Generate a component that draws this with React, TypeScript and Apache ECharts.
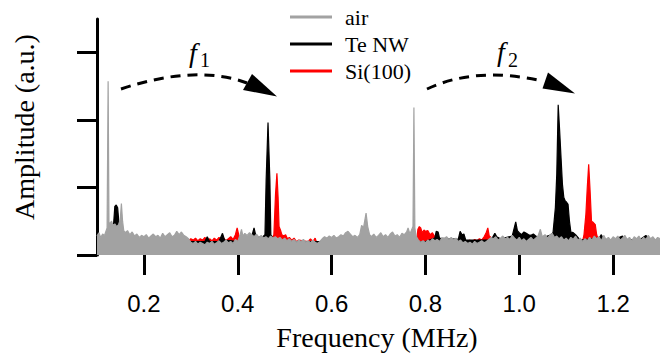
import React, { useEffect, useRef } from "react";
import * as echarts from "echarts";

// Frequency (MHz) / amplitude (a.u.) pairs
const airData: number[][] = [
  [0.100,0.28],[0.104,0.33],[0.108,0.26],[0.112,0.31],[0.116,0.29],[0.1215,0.4],[0.1237,2.57],[0.1255,0.48],[0.128,0.47],[0.131,0.5],
  [0.134,0.44],[0.138,0.46],[0.142,0.42],[0.146,0.45],[0.1495,0.52],[0.152,0.76],[0.1545,0.5],[0.157,0.36],[0.160,0.33],[0.165,0.36],
  [0.170,0.3],[0.175,0.34],[0.180,0.28],[0.185,0.31],[0.190,0.26],[0.195,0.29],[0.200,0.27],[0.205,0.3],[0.210,0.25],[0.215,0.28],
  [0.220,0.31],[0.225,0.27],[0.230,0.29],[0.235,0.25],[0.240,0.32],[0.245,0.27],[0.250,0.3],[0.255,0.33],[0.260,0.27],[0.265,0.29],
  [0.270,0.35],[0.275,0.3],[0.280,0.34],[0.285,0.29],[0.290,0.27],[0.295,0.24],[0.300,0.19],[0.305,0.17],[0.310,0.2],[0.315,0.16],
  [0.320,0.19],[0.325,0.17],[0.330,0.15],[0.335,0.19],[0.340,0.17],[0.345,0.2],[0.350,0.16],[0.355,0.18],[0.360,0.21],[0.365,0.17],
  [0.370,0.19],[0.375,0.22],[0.380,0.18],[0.385,0.2],[0.390,0.17],[0.395,0.23],[0.400,0.2],[0.405,0.3],[0.408,0.38],[0.411,0.28],
  [0.415,0.32],[0.420,0.29],[0.425,0.33],[0.430,0.3],[0.435,0.27],[0.440,0.31],[0.445,0.26],[0.450,0.29],[0.455,0.25],[0.460,0.27],
  [0.465,0.24],[0.470,0.28],[0.475,0.25],[0.480,0.27],[0.485,0.24],[0.490,0.26],[0.495,0.22],[0.500,0.25],[0.505,0.21],[0.510,0.24],
  [0.515,0.2],[0.520,0.23],[0.525,0.19],[0.530,0.22],[0.535,0.2],[0.540,0.23],[0.545,0.19],[0.550,0.21],[0.555,0.18],[0.560,0.22],
  [0.565,0.19],[0.570,0.17],[0.575,0.2],[0.580,0.24],[0.585,0.27],[0.590,0.25],[0.595,0.28],[0.600,0.26],[0.605,0.29],[0.610,0.25],
  [0.615,0.27],[0.620,0.3],[0.625,0.28],[0.630,0.33],[0.635,0.35],[0.640,0.31],[0.645,0.27],[0.650,0.29],[0.655,0.26],[0.660,0.3],
  [0.664,0.44],[0.668,0.4],[0.6735,0.62],[0.677,0.42],[0.681,0.3],[0.685,0.27],[0.690,0.31],[0.695,0.26],[0.700,0.29],[0.705,0.33],
  [0.710,0.27],[0.715,0.3],[0.720,0.26],[0.725,0.31],[0.730,0.34],[0.735,0.28],[0.740,0.3],[0.745,0.26],[0.750,0.32],[0.755,0.3],
  [0.760,0.34],[0.763,0.4],[0.767,0.31],[0.7735,0.42],[0.7755,2.18],[0.7775,0.4],[0.780,0.28],[0.785,0.22],[0.790,0.19],[0.795,0.21],
  [0.800,0.18],[0.805,0.22],[0.810,0.2],[0.815,0.24],[0.820,0.21],[0.825,0.23],[0.830,0.2],[0.835,0.25],[0.840,0.24],[0.845,0.27],
  [0.850,0.23],[0.855,0.26],[0.860,0.22],[0.865,0.25],[0.870,0.2],[0.875,0.22],[0.880,0.18],[0.885,0.2],[0.890,0.17],[0.895,0.19],
  [0.900,0.16],[0.905,0.2],[0.910,0.17],[0.915,0.19],[0.920,0.21],[0.925,0.18],[0.930,0.2],[0.935,0.23],[0.940,0.26],[0.945,0.24],
  [0.950,0.27],[0.955,0.22],[0.960,0.25],[0.965,0.28],[0.970,0.24],[0.975,0.26],[0.980,0.23],[0.985,0.29],[0.990,0.25],[0.995,0.22],
  [1.000,0.26],[1.005,0.21],[1.010,0.24],[1.015,0.2],[1.020,0.23],[1.025,0.26],[1.030,0.22],[1.035,0.25],[1.040,0.28],[1.045,0.38],
  [1.049,0.27],[1.055,0.3],[1.060,0.25],[1.065,0.29],[1.070,0.32],[1.075,0.26],[1.080,0.28],[1.085,0.24],[1.090,0.27],[1.095,0.22],
  [1.100,0.25],[1.105,0.21],[1.110,0.26],[1.115,0.23],[1.120,0.28],[1.125,0.22],[1.130,0.25],[1.135,0.2],[1.140,0.24],[1.145,0.21],
  [1.150,0.26],[1.155,0.22],[1.160,0.28],[1.165,0.24],[1.170,0.27],[1.175,0.21],[1.180,0.29],[1.185,0.23],[1.190,0.26],[1.195,0.22],
  [1.200,0.27],[1.205,0.24],[1.210,0.28],[1.215,0.22],[1.220,0.25],[1.225,0.29],[1.230,0.23],[1.235,0.26],[1.240,0.21],[1.245,0.27],
  [1.250,0.24],[1.255,0.28],[1.260,0.22],[1.265,0.26],[1.270,0.23],[1.275,0.29],[1.280,0.24],[1.285,0.27],[1.290,0.22],[1.295,0.26],
  [1.300,0.24]
];

const teNwData: number[][] = [
  [0.100,0.2],[0.130,0.25],[0.135,0.42],[0.138,0.72],[0.141,0.74],[0.144,0.7],[0.147,0.45],[0.150,0.3],[0.200,0.22],[0.300,0.2],
  [0.330,0.2],[0.335,0.27],[0.340,0.2],[0.360,0.2],[0.3675,0.32],[0.372,0.22],[0.400,0.2],[0.420,0.26],[0.430,0.28],[0.4347,0.4],
  [0.439,0.27],[0.452,0.26],[0.458,0.3],[0.4605,1.1],[0.4645,1.96],[0.4685,1.1],[0.4705,0.3],[0.480,0.2],[0.600,0.2],[0.800,0.2],
  [0.820,0.25],[0.823,0.35],[0.827,0.34],[0.830,0.25],[0.870,0.23],[0.874,0.35],[0.878,0.3],[0.882,0.31],[0.886,0.22],[0.940,0.22],
  [0.948,0.32],[0.952,0.27],[0.960,0.24],[0.985,0.28],[0.9925,0.49],[0.996,0.36],[1.000,0.33],[1.005,0.3],[1.010,0.34],[1.015,0.32],
  [1.020,0.3],[1.025,0.29],[1.030,0.31],[1.035,0.28],[1.050,0.25],[1.060,0.28],[1.065,0.29],[1.072,0.33],[1.077,0.7],[1.080,1.2],
  [1.083,2.22],[1.086,1.85],[1.089,1.45],[1.092,1.05],[1.095,0.85],[1.098,0.8],[1.101,0.78],[1.104,0.75],[1.107,0.5],[1.110,0.34],
  [1.115,0.33],[1.120,0.3],[1.130,0.22],[1.170,0.25],[1.175,0.3],[1.180,0.22],[1.200,0.22],[1.220,0.28],[1.225,0.22],[1.260,0.24],
  [1.270,0.29],[1.275,0.23],[1.300,0.22]
];

const siData: number[][] = [
  [0.100,0.15],[0.280,0.15],[0.290,0.18],[0.295,0.21],[0.300,0.24],[0.305,0.22],[0.310,0.25],[0.315,0.21],[0.320,0.24],[0.325,0.22],
  [0.330,0.26],[0.335,0.2],[0.340,0.24],[0.345,0.21],[0.350,0.25],[0.355,0.22],[0.360,0.26],[0.365,0.23],[0.370,0.25],[0.375,0.21],
  [0.380,0.24],[0.385,0.27],[0.390,0.23],[0.395,0.3],[0.3987,0.4],[0.402,0.3],[0.405,0.22],[0.410,0.18],[0.470,0.2],[0.477,0.3],
  [0.4805,0.9],[0.4835,1.21],[0.486,0.85],[0.488,0.42],[0.491,0.37],[0.494,0.3],[0.498,0.28],[0.502,0.3],[0.506,0.24],[0.510,0.26],
  [0.515,0.22],[0.520,0.25],[0.525,0.2],[0.530,0.22],[0.550,0.2],[0.555,0.24],[0.560,0.2],[0.565,0.25],[0.570,0.15],[0.775,0.15],
  [0.781,0.2],[0.784,0.38],[0.787,0.42],[0.790,0.4],[0.793,0.33],[0.797,0.37],[0.800,0.35],[0.805,0.36],[0.810,0.3],[0.815,0.33],
  [0.820,0.27],[0.825,0.2],[0.890,0.15],[0.894,0.22],[0.900,0.2],[0.905,0.23],[0.910,0.21],[0.915,0.24],[0.920,0.22],[0.925,0.27],
  [0.929,0.32],[0.933,0.4],[0.936,0.28],[0.940,0.26],[0.945,0.24],[0.950,0.22],[0.955,0.25],[0.960,0.2],[1.000,0.18],[1.020,0.2],
  [1.025,0.17],[1.100,0.15],[1.105,0.22],[1.110,0.18],[1.135,0.2],[1.138,0.3],[1.142,0.6],[1.145,1.0],[1.148,1.34],[1.151,0.95],
  [1.154,0.5],[1.158,0.48],[1.162,0.45],[1.165,0.3],[1.170,0.2],[1.200,0.18],[1.215,0.23],[1.220,0.18],[1.262,0.2],[1.266,0.24],
  [1.270,0.18],[1.300,0.18]
];

const seriesNames = ["air", "Te NW", "Si(100)"];
const xTicks = [0.2, 0.4, 0.6, 0.8, 1.0, 1.2];
const yTicks = [0, 1, 2, 3];

const GRAY = "#a2a2a2";
const BLACK = "#000000";
const RED = "#ff0000";

function areaSeries(name: string, data: number[][], color: string, z: number) {
  return {
    name,
    type: "line",
    data,
    color,
    z,
    showSymbol: false,
    symbol: "none",
    lineStyle: { color, width: 1.2 },
    areaStyle: { color, opacity: 1 },
    emphasis: { disabled: true },
  };
}

export default function App() {
  const ref = useRef<HTMLDivElement>(null);
  useEffect(() => {
    if (!ref.current) return;
    const chart = echarts.init(ref.current, undefined, { renderer: "svg" });
    const serif = "Liberation Serif";
    chart.setOption({
      animation: false,
      backgroundColor: "#ffffff",
      grid: { left: 97, top: 19, width: 566, height: 236 },
      legend: {
        data: seriesNames,
        orient: "vertical",
        left: 290,
        top: 6,
        padding: 0,
        itemGap: 5,
        itemWidth: 42,
        itemHeight: 3,
        icon: "rect",
        textStyle: {
          fontFamily: serif,
          fontSize: 22,
          lineHeight: 22,
          color: "#000",
          padding: [0, 0, 0, 8],
        },
      },
      xAxis: {
        type: "value",
        min: 0.1,
        max: 1.3,
        axisLine: { show: false },
        splitLine: { show: false },
        axisTick: {
          show: true,
          customValues: xTicks,
          length: 20,
          lineStyle: { color: "#000", width: 3 },
        },
        axisLabel: {
          customValues: xTicks,
          margin: 36,
          fontFamily: "Liberation Sans",
          fontSize: 24,
          color: "#000",
          formatter: (v: number) => v.toFixed(1),
        },
      },
      yAxis: {
        type: "value",
        min: 0,
        max: 3.49,
        axisLine: { show: true, lineStyle: { color: "#000", width: 3 } },
        splitLine: { show: false },
        axisTick: {
          show: true,
          customValues: yTicks,
          length: 20,
          lineStyle: { color: "#000", width: 3 },
        },
        axisLabel: { show: false },
      },
      series: [
        areaSeries("Si(100)", siData, RED, 2),
        areaSeries("Te NW", teNwData, BLACK, 3),
        areaSeries("air", airData, GRAY, 4),
      ],
      graphic: [
        {
          type: "text",
          x: 24,
          y: 127,
          rotation: Math.PI / 2,
          z: 100,
          style: {
            text: "Amplitude (a.u.)",
            fontFamily: serif,
            fontSize: 28,
            fill: "#000",
            align: "center",
            verticalAlign: "middle",
          },
        },
        {
          type: "text",
          x: 377,
          y: 337,
          z: 100,
          style: {
            text: "Frequency (MHz)",
            fontFamily: serif,
            fontSize: 28,
            fill: "#000",
            align: "center",
            verticalAlign: "middle",
          },
        },
        {
          type: "bezierCurve",
          z: 100,
          shape: { x1: 121, y1: 89, cpx1: 196, cpy1: 64, x2: 247, y2: 83 },
          style: { stroke: "#000", lineWidth: 3, lineDash: [10, 7], fill: null },
        },
        {
          type: "polygon",
          z: 100,
          shape: { points: [[277, 96.5], [252, 74], [243, 90]] },
          style: { fill: "#000" },
        },
        {
          type: "bezierCurve",
          z: 100,
          shape: { x1: 427, y1: 89, cpx1: 476, cpy1: 66, x2: 542, y2: 81 },
          style: { stroke: "#000", lineWidth: 3, lineDash: [10, 7], fill: null },
        },
        {
          type: "polygon",
          z: 100,
          shape: { points: [[575, 93.5], [548, 72.5], [542.5, 88.5]] },
          style: { fill: "#000" },
        },
        {
          type: "text",
          x: 193,
          y: 52,
          z: 100,
          style: { text: "f", fontFamily: serif, fontStyle: "italic", fontSize: 28, fill: "#000", align: "center", verticalAlign: "middle" },
        },
        {
          type: "text",
          x: 205,
          y: 60,
          z: 100,
          style: { text: "1", fontFamily: serif, fontSize: 20, fill: "#000", align: "center", verticalAlign: "middle" },
        },
        {
          type: "text",
          x: 501,
          y: 51,
          z: 100,
          style: { text: "f", fontFamily: serif, fontStyle: "italic", fontSize: 28, fill: "#000", align: "center", verticalAlign: "middle" },
        },
        {
          type: "text",
          x: 513,
          y: 60,
          z: 100,
          style: { text: "2", fontFamily: serif, fontSize: 20, fill: "#000", align: "center", verticalAlign: "middle" },
        },
      ],
    });
    return () => chart.dispose();
  }, []);
  return <div ref={ref} style={{ width: 660, height: 358, position: "absolute", left: 0, top: 0 }} />;
}
